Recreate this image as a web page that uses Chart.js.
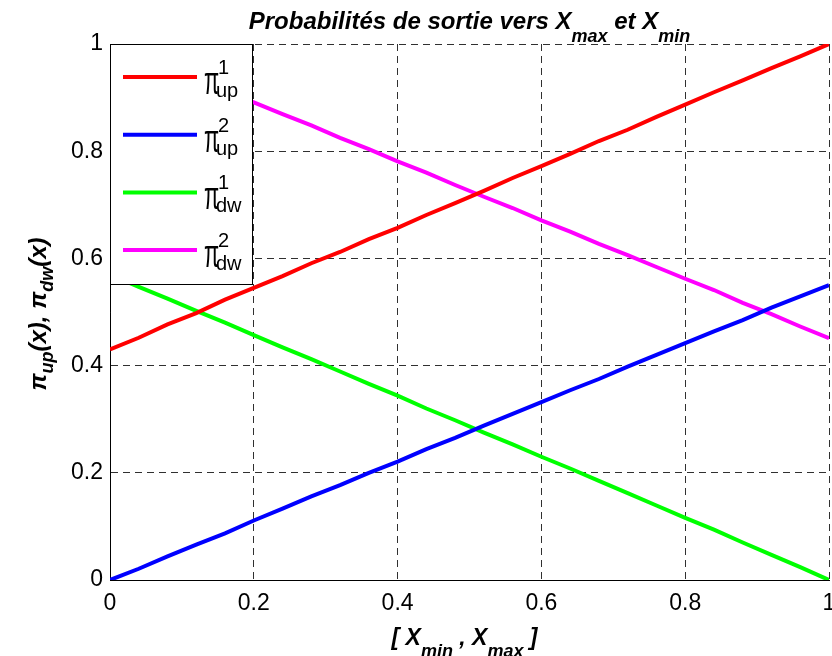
<!DOCTYPE html>
<html>
<head>
<meta charset="utf-8">
<script src="https://cdn.jsdelivr.net/npm/chart.js@4"></script>
<style>
  body { margin: 0; background: #fff; }
  #wrap { width: 832px; height: 656px; }
</style>
</head>
<body>
<div id="wrap"><canvas id="probChart" width="832" height="656"></canvas></div>
<script>
// values, x from 0 to 1 by 0.04
const xValues = [0, 0.04, 0.08, 0.12, 0.16, 0.2, 0.24, 0.28, 0.32, 0.36, 0.4, 0.44, 0.48,
                 0.52, 0.56, 0.6, 0.64, 0.68, 0.72, 0.76, 0.8, 0.84, 0.88, 0.92, 0.96, 1];
const piUp1 = [0.430, 0.452, 0.477, 0.498, 0.523, 0.545, 0.567, 0.591, 0.612, 0.636, 0.657, 0.681, 0.703,
               0.726, 0.750, 0.772, 0.795, 0.819, 0.840, 0.864, 0.887, 0.910, 0.932, 0.955, 0.977, 1.000];
const piUp2 = [0.000, 0.021, 0.044, 0.066, 0.087, 0.111, 0.133, 0.156, 0.177, 0.200, 0.221, 0.244, 0.265,
               0.288, 0.310, 0.332, 0.354, 0.375, 0.398, 0.420, 0.442, 0.464, 0.485, 0.508, 0.529, 0.550];
const piDw1 = [0.570, 0.547, 0.525, 0.502, 0.480, 0.457, 0.434, 0.412, 0.389, 0.366, 0.344, 0.320, 0.298,
               0.275, 0.253, 0.230, 0.208, 0.185, 0.162, 0.139, 0.116, 0.094, 0.070, 0.047, 0.024, 0.000];
const piDw2 = [1.000, 0.978, 0.957, 0.934, 0.913, 0.891, 0.869, 0.848, 0.825, 0.804, 0.781, 0.760, 0.737,
               0.715, 0.694, 0.671, 0.650, 0.627, 0.606, 0.584, 0.562, 0.541, 0.517, 0.496, 0.473, 0.451];
const tickValues = [0, 0.2, 0.4, 0.6, 0.8, 1];

const seriesLabels = [
    { sup: '1', sub: 'up' },
    { sup: '2', sub: 'up' },
    { sup: '1', sub: 'dw' },
    { sup: '2', sub: 'dw' }
];
const seriesColors = ['#ff0000', '#0000ff', '#00ff00', '#ff00ff'];
const seriesData = [piUp1, piUp2, piDw1, piDw2];

const FONT = '"Liberation Sans", Arial, sans-serif';

// draws a run of text pieces, each with its own size and vertical shift
function drawRuns(ctx, runs, x, y, align) {
    let total = 0;
    runs.forEach(r => {
        ctx.font = r.font;
        r.w = ctx.measureText(r.t).width + (r.gap || 0);
        total += r.w;
    });
    let cx = align === 'center' ? x - total / 2 : x;
    ctx.textAlign = 'left';
    ctx.textBaseline = 'alphabetic';
    runs.forEach(r => {
        ctx.font = r.font;
        ctx.fillText(r.t, cx, y + (r.dy || 0));
        cx += r.w;
    });
}

const textPlugin = {
    id: 'matlabText',
    afterDatasetsDraw(chart) {
        const ctx = chart.ctx;
        const area = chart.chartArea;
        ctx.save();

        // legend box
        const bx = area.left, by = area.top, bw = 142, bh = 240;
        ctx.fillStyle = '#fff';
        ctx.fillRect(bx, by, bw, bh);
        ctx.strokeStyle = '#000';
        ctx.lineWidth = 1;
        ctx.strokeRect(bx + 0.5, by + 0.5, bw, bh);
        chart.data.datasets.forEach((ds, i) => {
            const ly = by + 33 + i * 57.7;
            ctx.strokeStyle = ds.borderColor;
            ctx.lineWidth = 4;
            ctx.beginPath();
            ctx.moveTo(bx + 13, ly);
            ctx.lineTo(bx + 87, ly);
            ctx.stroke();
            const lab = seriesLabels[i];
            ctx.fillStyle = '#000';
            ctx.textAlign = 'left';
            // tall narrow pi like the plotting symbol font
            ctx.save();
            ctx.translate(bx + 94, ly + 17);
            ctx.scale(1, 1.75);
            ctx.font = '22px ' + FONT;
            ctx.fillText('\u03c0', 0, 0);
            ctx.restore();
            ctx.font = '20px ' + FONT;
            ctx.fillText(lab.sup, bx + 108, ly - 3);
            ctx.fillText(lab.sub, bx + 106, ly + 20);
        });

        ctx.fillStyle = '#000';
        // title
        const bi = 'italic bold ';
        drawRuns(ctx, [
            { t: 'Probabilités de sortie vers X', font: bi + '24px ' + FONT },
            { t: 'max', font: bi + '18px ' + FONT, dy: 13 },
            { t: ' et X', font: bi + '24px ' + FONT },
            { t: 'min', font: bi + '18px ' + FONT, dy: 13 }
        ], (area.left + area.right) / 2, 29, 'center');

        // x axis title
        drawRuns(ctx, [
            { t: '[ X', font: bi + '23px ' + FONT },
            { t: 'min', font: bi + '18px ' + FONT, dy: 12 },
            { t: ' , X', font: bi + '23px ' + FONT },
            { t: 'max', font: bi + '18px ' + FONT, dy: 12 },
            { t: ' ]', font: bi + '23px ' + FONT }
        ], (area.left + area.right) / 2 - 5, 645, 'center');

        // y axis title
        ctx.translate(46, 314);
        ctx.rotate(-Math.PI / 2);
        drawRuns(ctx, [
            { t: '\u03c0', font: bi + '24px ' + FONT },
            { t: 'up', font: bi + '18px ' + FONT, dy: 7 },
            { t: '(x), \u03c0', font: bi + '24px ' + FONT },
            { t: 'dw', font: bi + '18px ' + FONT, dy: 7 },
            { t: '(x)', font: bi + '24px ' + FONT }
        ], 0, 0, 'center');
        ctx.restore();
    }
};

function fixAxis(size) {
    return function(scale) {
        if (scale.isHorizontal()) scale.height = size; else scale.width = size;
        scale.paddingLeft = 0;
        scale.paddingRight = 0;
        scale.paddingTop = 0;
        scale.paddingBottom = 0;
    };
}

const axisCommon = {
    type: 'linear',
    min: 0,
    max: 1,
    afterBuildTicks: function(scale) {
        scale.ticks = tickValues.map(v => ({ value: v }));
    },
    grid: {
        color: '#303030',
        lineWidth: 1,
        drawTicks: false
    },
    border: {
        display: true,
        color: '#000',
        width: 1,
        dash: [7, 5]
    },
    ticks: {
        color: '#000',
        font: { family: FONT, size: 23 },
        autoSkip: false,
        maxRotation: 0,
        callback: v => String(Math.round(v * 10) / 10)
    }
};

const ctx = document.getElementById('probChart').getContext('2d');
const chart = new Chart(ctx, {
    type: 'line',
    data: {
        datasets: seriesData.map((vals, i) => ({
            label: 'pi' + seriesLabels[i].sub + seriesLabels[i].sup,
            data: vals.map((v, j) => ({ x: xValues[j], y: v })),
            borderColor: seriesColors[i],
            borderWidth: 4,
            pointRadius: 0,
            tension: 0,
            fill: false
        }))
    },
    options: {
        responsive: false,
        animation: false,
        layout: { padding: { left: 0, top: 44, right: 3, bottom: 0 } },
        plugins: {
            legend: { display: false },
            title: { display: false },
            tooltip: { enabled: false }
        },
        scales: {
            x: Object.assign({}, axisCommon, {
                position: 'bottom',
                afterFit: fixAxis(76),
                ticks: Object.assign({}, axisCommon.ticks, { padding: 10 })
            }),
            y: Object.assign({}, axisCommon, {
                position: 'left',
                afterFit: fixAxis(110),
                ticks: Object.assign({}, axisCommon.ticks, { padding: 7 })
            })
        }
    },
    plugins: [textPlugin]
});
</script>
</body>
</html>
